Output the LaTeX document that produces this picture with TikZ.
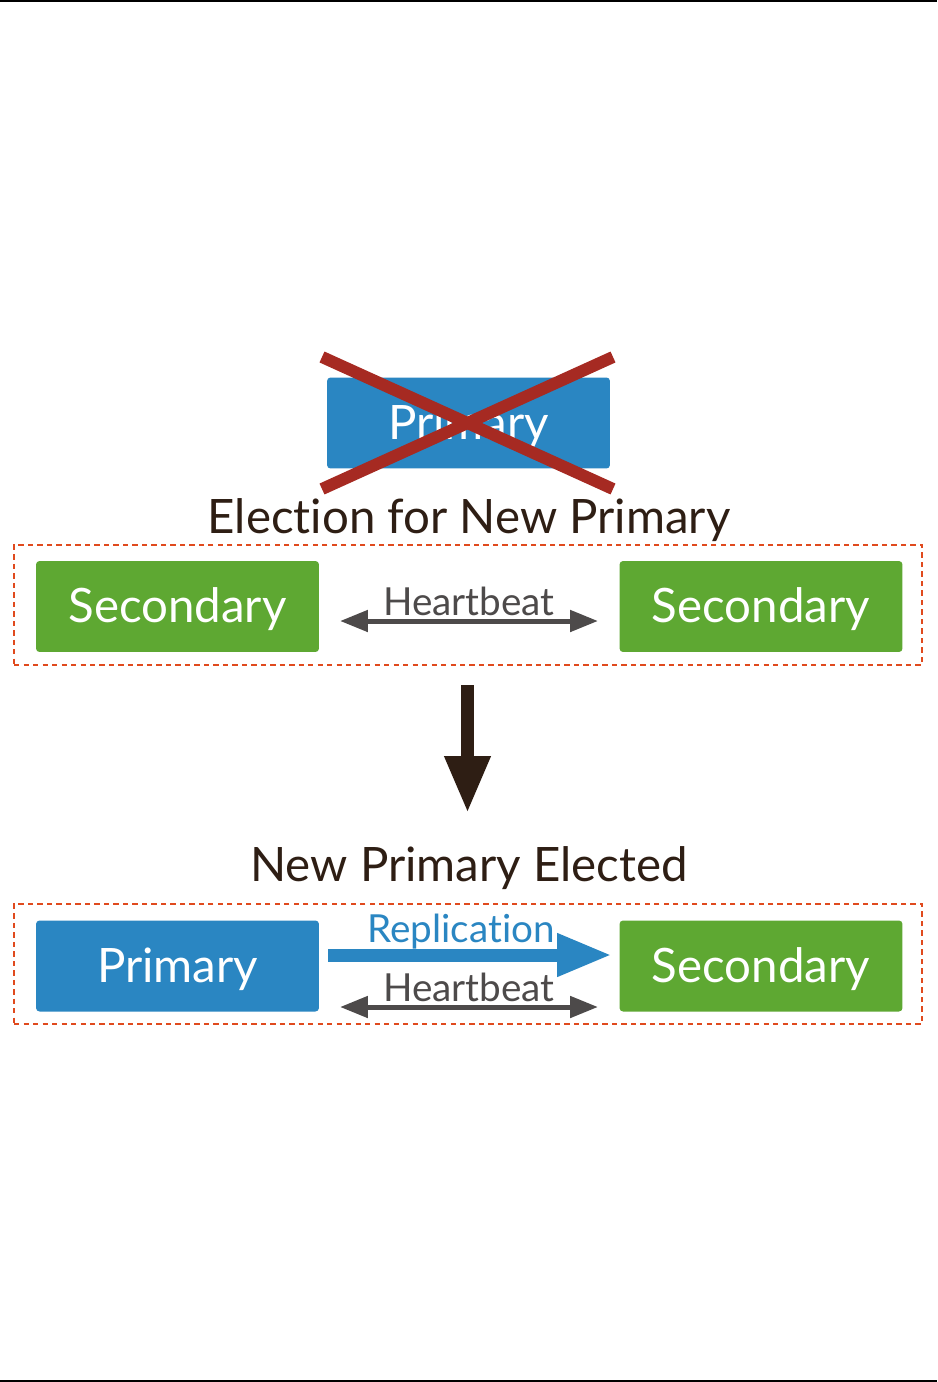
\documentclass[tikz,border=0pt]{standalone}
\usepackage{fontspec}
\setmainfont{Lato}[Ligatures=NoCommon]
\usepackage{tikz}
\usetikzlibrary{arrows.meta, positioning, calc}
\definecolor{mongoblue}{RGB}{42, 134, 194}
\definecolor{mongogreen}{RGB}{94, 168, 50}
\definecolor{crossred}{RGB}{166, 42, 34}
\definecolor{groupred}{RGB}{224, 74, 30}
\definecolor{beatgray}{RGB}{77, 74, 74}
\definecolor{darkbrown}{RGB}{46, 30, 20}

\begin{document}
\begin{tikzpicture}[
    x=0.02cm, y=-0.02cm,
    member/.style={rectangle, rounded corners=2pt, fill=#1, text=white, minimum width=5.66cm, minimum height=1.82cm, inner sep=0pt, text height=0.74cm, text depth=0.1cm, font=\fontsize{27}{30}\selectfont},
    group/.style={rectangle, draw=groupred, line width=1.2pt, dash pattern=on 3pt off 2.4pt, minimum width=18.16cm, minimum height=2.4cm, inner sep=0pt},
    beat/.style={{Triangle[length=0.56cm, width=0.42cm]}-{Triangle[length=0.56cm, width=0.42cm]}, line width=0.1cm, beatgray},
    title/.style={text=darkbrown, font=\fontsize{27}{30}\selectfont, inner sep=0pt},
    label/.style={font=\fontsize{22}{26}\selectfont, inner sep=0pt}
]
\useasboundingbox (0,0) rectangle (937,1382);
% page rules
\draw[line width=1.2pt] (0,1) coordinate (tl) -- (937,1) coordinate (tr);
\draw[line width=1.2pt] (0,1381) coordinate (bl) -- (937,1381) coordinate (br);

% failed primary
\node[member=mongoblue] (oldp) at (468.5, 423) {Primary};
\coordinate (x1) at (322, 357);
\coordinate (x2) at (613, 489);
\coordinate (x3) at (613, 357);
\coordinate (x4) at (322, 489);
\draw[crossred, line width=0.24cm] (x1) -- (x2);
\draw[crossred, line width=0.24cm] (x3) -- (x4);

% election
\node[title] (elect) at (469, 520) {Election for New Primary};
\node[group] (g1) at (468, 605) {};
\node[member=mongogreen] (s1) at (177.5, 606.5) {Secondary};
\node[member=mongogreen] (s2) at (761, 606.5) {Secondary};
\coordinate (h1a) at (340, 621);
\coordinate (h1b) at (598, 621);
\draw[beat] (h1a) -- (h1b);
\node[label, text=beatgray] (h1) at (469, 601) {Heartbeat};

% transition
\coordinate (d1) at (467.5, 685);
\coordinate (d2) at (467.5, 813);
\draw[-{Triangle[length=1.14cm, width=0.86cm]}, line width=0.26cm, darkbrown] (d1) -- (d2);

% new primary
\node[title] (newp) at (469, 868) {New Primary Elected};
\node[group] (g2) at (468, 964) {};
\node[member=mongoblue] (p) at (177.5, 966) {Primary};
\node[member=mongogreen] (s3) at (761, 966) {Secondary};
\coordinate (ra) at (328, 955);
\coordinate (rb) at (612, 955);
\draw[-{Triangle[length=1.1cm, width=0.8cm]}, line width=0.26cm, mongoblue] (ra) -- (rb);
\node[label, text=mongoblue] (r) at (461, 932) {Replication};
\coordinate (h2a) at (340, 1007);
\coordinate (h2b) at (598, 1007);
\draw[beat] (h2a) -- (h2b);
\node[label, text=beatgray] (h2) at (469, 987) {Heartbeat};

\end{tikzpicture}
\end{document}
